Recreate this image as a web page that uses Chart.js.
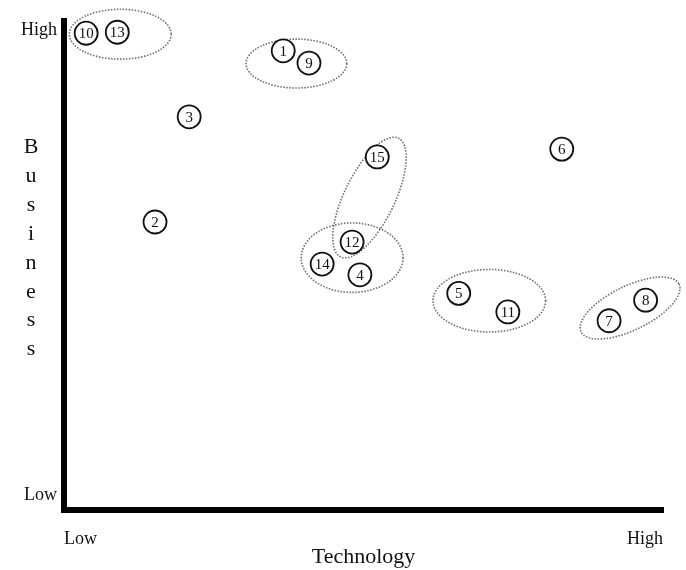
<!DOCTYPE html>
<html>
<head>
<meta charset="utf-8">
<script src="https://cdn.jsdelivr.net/npm/chart.js@4/dist/chart.umd.min.js"></script>
<style>
  html, body { margin: 0; padding: 0; background: #fff; }
  #wrap { width: 686px; height: 570px; }
</style>
</head>
<body>
<div id="wrap"><canvas id="myChart"></canvas></div>
<script>
// project ids and their scores (0 = low, 100 = high)
const ids      = [1, 2, 3, 4, 5, 6, 7, 8, 9, 10, 11, 12, 13, 14, 15];
const tech     = [36.6, 15.2, 20.9, 49.4, 65.9, 83.1, 91.0, 97.1, 40.9, 3.7, 74.1, 48.1, 8.9, 43.1, 52.3];
const business = [93.9, 58.9, 80.4, 48.1, 44.3, 73.8, 38.7, 42.9, 91.4, 97.5, 40.5, 54.8, 97.7, 50.3, 72.2];

// clusters drawn as dotted ellipses (axis units)
const clusterX   = [9.4, 38.8, 51.0, 48.1, 71.0, 94.5];
const clusterY   = [97.3, 91.3, 63.9, 51.6, 42.8, 41.3];
const clusterRX  = [8.5, 8.4, 4.2, 8.5, 9.4, 9.1];
const clusterRY  = [5.1, 5.0, 13.5, 7.1, 6.4, 4.5];
const clusterRot = [0, 0, 26, 0, 0, -26];

// axis ticks
const xTickValues = [0, 100];
const xTickLabels = ["Low", "High"];
const yTickValues = [3.1, 98.2];
const yTickLabels = ["Low", "High"];

const serif = "'Liberation Serif', 'DejaVu Serif', serif";

const clusterPlugin = {
    id: "clusters",
    beforeDatasetsDraw: function(chart) {
        const ctx = chart.ctx;
        const xs = chart.scales.x, ys = chart.scales.y;
        const pxX = Math.abs(xs.getPixelForValue(1) - xs.getPixelForValue(0));
        const pxY = Math.abs(ys.getPixelForValue(1) - ys.getPixelForValue(0));
        ctx.save();
        ctx.strokeStyle = "#6e6e6e";
        ctx.lineWidth = 1.6;
        ctx.setLineDash([1.5, 1.5]);
        for (let i = 0; i < clusterX.length; i++) {
            ctx.beginPath();
            ctx.ellipse(xs.getPixelForValue(clusterX[i]), ys.getPixelForValue(clusterY[i]),
                clusterRX[i] * pxX, clusterRY[i] * pxY, clusterRot[i] * Math.PI / 180, 0, Math.PI * 2);
            ctx.stroke();
        }
        ctx.restore();
    },
    afterDatasetsDraw: function(chart) {
        const ctx = chart.ctx;
        const meta = chart.getDatasetMeta(0);
        ctx.save();
        ctx.fillStyle = "#111";
        ctx.font = "15px " + serif;
        ctx.textAlign = "center";
        ctx.textBaseline = "middle";
        meta.data.forEach(function(pt, i) {
            ctx.fillText(String(ids[i]), pt.x, pt.y + 1);
        });
        // vertical axis title, one letter per line
        ctx.font = "22px " + serif;
        ctx.textBaseline = "alphabetic";
        const word = "Business";
        for (let k = 0; k < word.length; k++) {
            ctx.fillText(word[k], 31, 153 + k * 28.9);
        }
        ctx.restore();
    }
};

const points = ids.map(function(id, i) { return { x: tech[i], y: business[i] }; });

new Chart(document.getElementById("myChart"), {
    type: "scatter",
    data: {
        datasets: [{
            data: points,
            pointRadius: 11.5,
            pointHoverRadius: 11.5,
            pointBackgroundColor: "#fff",
            pointBorderColor: "#111",
            pointBorderWidth: 1.8,
            clip: false
        }]
    },
    options: {
        responsive: true,
        maintainAspectRatio: false,
        animation: false,
        events: [],
        layout: { padding: { top: 21, right: 23, left: 0, bottom: 0 } },
        plugins: { legend: { display: false }, tooltip: { enabled: false } },
        scales: {
            x: {
                type: "linear",
                min: 0, max: 100,
                grid: { display: false, drawTicks: false },
                border: { display: true, color: "#000", width: 6 },
                afterBuildTicks: function(s) { s.ticks = xTickValues.map(function(v) { return { value: v }; }); },
                afterFit: function(s) { s.height = 60; },
                ticks: {
                    align: "inner",
                    padding: 18,
                    color: "#111",
                    font: { family: serif, size: 18 },
                    callback: function(v) { return xTickLabels[xTickValues.indexOf(v)]; }
                },
                title: {
                    display: true,
                    text: "Technology",
                    color: "#111",
                    font: { family: serif, size: 22 },
                    padding: { top: 0, bottom: 0 }
                }
            },
            y: {
                type: "linear",
                min: 0, max: 100,
                grid: { display: false, drawTicks: false },
                border: { display: true, color: "#000", width: 6 },
                afterBuildTicks: function(s) { s.ticks = yTickValues.map(function(v) { return { value: v }; }); },
                afterFit: function(s) { s.width = 64; },
                ticks: {
                    padding: 7,
                    color: "#111",
                    font: { family: serif, size: 18 },
                    callback: function(v) { return yTickLabels[yTickValues.indexOf(v)]; }
                }
            }
        }
    },
    plugins: [clusterPlugin]
});
</script>
</body>
</html>
